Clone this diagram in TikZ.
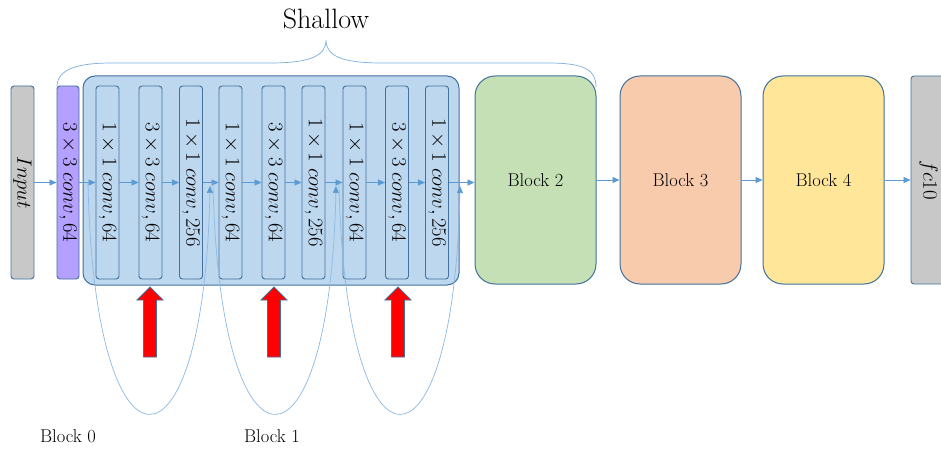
\documentclass[tikz,border=0pt]{standalone}
\usepackage{graphicx}
\usetikzlibrary{arrows.meta}
\definecolor{lineblue}{HTML}{5B9BD5}
\definecolor{arcblue}{HTML}{8DB9E3}
\definecolor{edgeblue}{HTML}{41719C}
\definecolor{boxblue}{HTML}{BDD7EE}
\definecolor{layergray}{HTML}{C8C8C8}
\definecolor{convpurple}{HTML}{B4A0FF}
\definecolor{blkgreen}{HTML}{C5E0B4}
\definecolor{blkorange}{HTML}{F8CBAD}
\definecolor{blkyellow}{HTML}{FFE699}
\newcommand{\vtext}[1]{\rotatebox{-90}{#1}}
\begin{document}
\begin{tikzpicture}[x=1pt,y=-1pt,
  layerbox/.style={draw=edgeblue,line width=0.9pt,rounded corners=3pt,
    minimum width=23pt,minimum height=193pt,inner sep=0pt,fill=boxblue,
    font=\fontsize{22}{26}\selectfont},
  blockbox/.style={draw=edgeblue,line width=1pt,rounded corners=20pt,
    minimum width=121pt,minimum height=208pt,inner sep=0pt,
    font=\fontsize{18.5}{22}\selectfont},
  flow/.style={draw=lineblue,line width=0.8pt,-{Triangle[length=7pt,width=6pt]}},
  skip/.style={draw=arcblue,line width=0.7pt,
    -{Triangle[length=7pt,width=6pt,color=lineblue]}},
  bigup/.style={fill=red,draw=edgeblue,line width=0.8pt},
  caption/.style={font=\fontsize{18.5}{22}\selectfont}
]
\clip (0,0) rectangle (941,449);
\fill[white] (0,0) rectangle (941,449);

% residual stage container
\node[draw=edgeblue,line width=1pt,fill=boxblue,rounded corners=12pt,
  minimum width=376pt,minimum height=209pt] (stage) at (271,180.5) {};

% input and stem
\node[layerbox,fill=layergray] (in) at (22.5,182.5) {\vtext{$Input$}};
\node[layerbox,fill=convpurple,minimum width=22pt] (stem) at (68,182.5) {\vtext{$3\times3\;conv,64$}};

% bottleneck layers
\node[layerbox] (c1) at (107.5,182.5) {\vtext{$1\times1\;conv,64$}};
\node[layerbox] (c2) at (150.5,182.5) {\vtext{$3\times3\;conv,64$}};
\node[layerbox] (c3) at (191,182.5)   {\vtext{$1\times1\;conv,256$}};
\node[layerbox] (c4) at (230.5,182.5) {\vtext{$1\times1\;conv,64$}};
\node[layerbox] (c5) at (273.5,182.5) {\vtext{$3\times3\;conv,64$}};
\node[layerbox] (c6) at (313.5,182.5) {\vtext{$1\times1\;conv,256$}};
\node[layerbox] (c7) at (354.5,182.5) {\vtext{$1\times1\;conv,64$}};
\node[layerbox] (c8) at (397,182.5)   {\vtext{$3\times3\;conv,64$}};
\node[layerbox] (c9) at (437,182.5)   {\vtext{$1\times1\;conv,256$}};

% later stages
\node[blockbox,fill=blkgreen]  (b2) at (535.5,180) {Block 2};
\node[blockbox,fill=blkorange] (b3) at (680.5,180) {Block 3};
\node[blockbox,fill=blkyellow] (b4) at (823.5,180) {Block 4};
\node[layerbox,fill=layergray,minimum width=35pt,minimum height=208pt] (fc) at (928.5,180) {\vtext{$fc10$}};

% forward connections
\draw[flow] (in.east) -- (stem.west);
\draw[flow] (stem.east) -- (c1.west);
\foreach \a/\b in {c1/c2,c2/c3,c3/c4,c4/c5,c5/c6,c6/c7,c7/c8,c8/c9}
  \draw[flow] (\a.east) -- (\b.west);
\draw[flow] (c9.east) -- (c9.east -| b2.west);
\draw[flow] (b2.east) -- (b3.west);
\draw[flow] (b3.east) -- (b4.west);
\draw[flow] (b4.east) -- (fc.west);

% shortcut connections
\coordinate (s0) at (88,182.5);
\coordinate (e0) at (210,186);
\coordinate (s1) at (213,182.5);
\coordinate (e1) at (336,186);
\coordinate (s2) at (339,182.5);
\coordinate (e2) at (460,186);
\draw[skip] (s0) .. controls (94,490) and (204,490) .. (e0);
\draw[skip] (s1) .. controls (219,490) and (330,490) .. (e1);
\draw[skip] (s2) .. controls (345,490) and (454,490) .. (e2);

% red markers under the 3x3 layers
\foreach \x in {150,274,398}
  \draw[bigup] (\x,287) -- (\x+13,300) -- (\x+6.5,300) -- (\x+6.5,357)
    -- (\x-6.5,357) -- (\x-6.5,300) -- (\x-13,300) -- cycle;

% brace over the shallow part
\draw[draw=lineblue!80,line width=0.7pt]
  (57,87) .. controls (57,68) and (80,63) .. (112,63) -- (270,63)
  .. controls (310,63) and (326,56) .. (326,40)
  .. controls (326,56) and (342,63) .. (382,63) -- (548,63)
  .. controls (585,63) and (596,70) .. (596,87);
\node[font=\fontsize{28}{32}\selectfont] (shallow) at (326,19) {Shallow};

% block captions
\node[caption] (lb0) at (68,436) {Block 0};
\node[caption] (lb1) at (272,436) {Block 1};
\end{tikzpicture}
\end{document}
